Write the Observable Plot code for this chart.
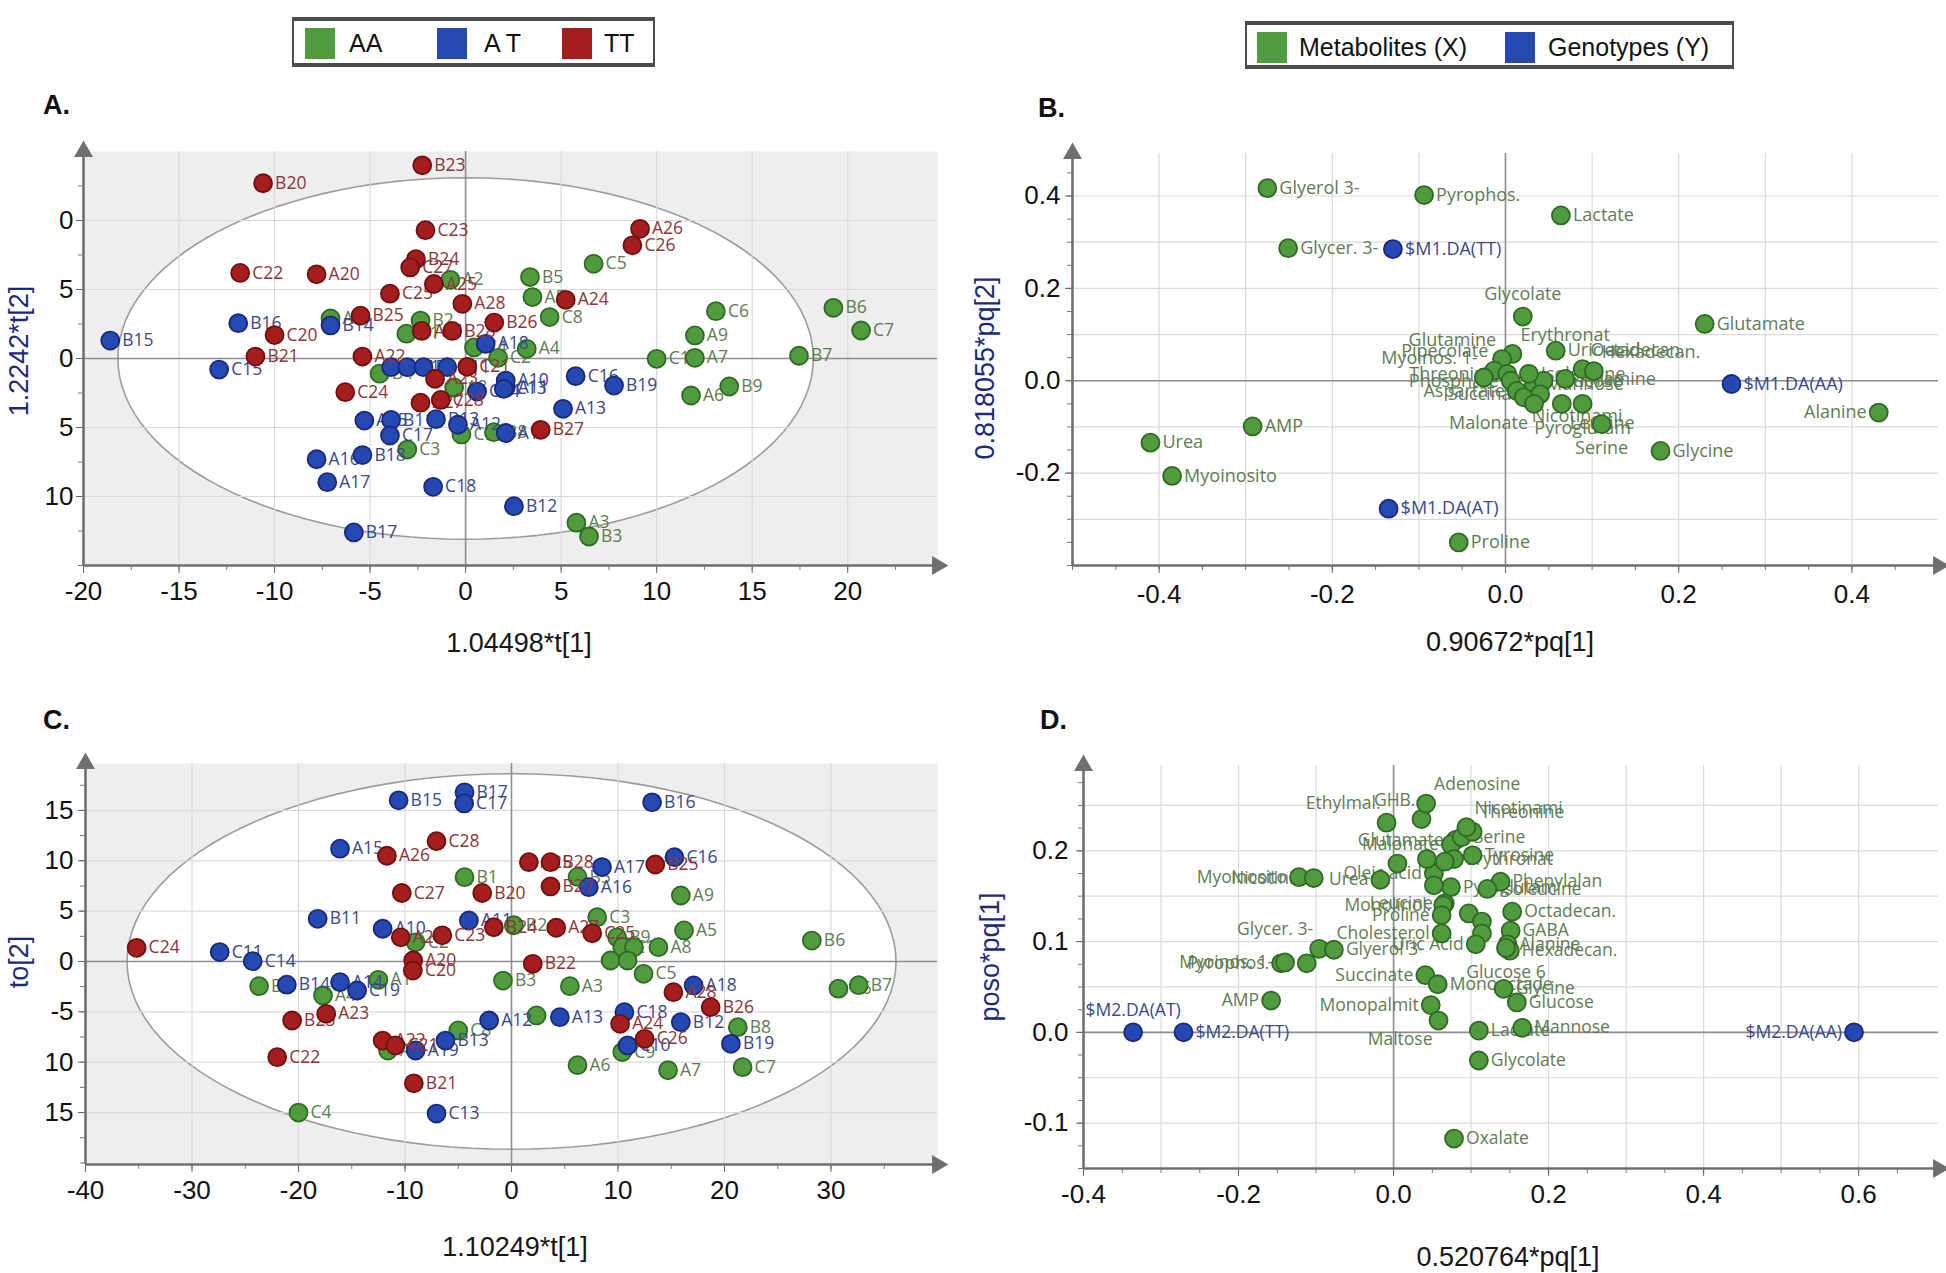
<!DOCTYPE html>
<html><head><meta charset="utf-8">
<script src="https://cdn.jsdelivr.net/npm/d3@7"></script>
<script src="https://cdn.jsdelivr.net/npm/@observablehq/plot@0.6"></script>
<style>
body{margin:0;background:#fff;}
#root{position:relative;width:1946px;height:1273px;overflow:hidden;font-family:"Liberation Sans",Arial,sans-serif;background:#fff;}
.title{position:absolute;transform:translate(-50%,-50%);white-space:nowrap;font-size:27px;color:#161616;}
.ytitle{position:absolute;transform:translate(-50%,-50%) rotate(-90deg);white-space:nowrap;font-size:27px;color:#1b2a78;}
.letter{position:absolute;font-weight:bold;font-size:27px;color:#111;transform:translateY(-50%);}
.legend{position:absolute;border:2px solid #4d4d4d;border-top-width:4px;border-bottom-width:4px;box-sizing:border-box;background:#fff;font-size:25px;color:#111;}
.sw{position:absolute;top:7px;width:30px;height:31px;}
.lt{position:absolute;top:5px;line-height:34px;}
</style></head><body><div id="root"></div>
<script>
// ---------------- Legends ----------------
const legendA = ["AA", "A T", "TT"];
const legendB = ["Metabolites (X)", "Genotypes (Y)"];

// ---------------- Panel A : scores ----------------
const aAA = [
 ["B5",3.37,5.9],["A5",3.5,4.45],["C5",6.7,6.86],["C8",4.4,3.0],["A4",3.2,0.7],["C2",1.7,0.05],
 ["C6",13.1,3.43],["A9",12.0,1.67],["C1",10.0,-0.02],["A7",12.0,0.05],["B7",17.45,0.2],
 ["B6",19.25,3.67],["C7",20.7,2.03],["A6",11.8,-2.68],["B9",13.8,-2.03],["A3",5.8,-11.9],["B3",6.46,-12.9],
 ["C3",-3.05,-6.6],["A2",-0.8,5.7],["A1",-7.07,2.9],["B1",-3.1,1.8],["B2",-2.36,2.75],["C4",0.44,0.8],
 ["B4",-4.5,-1.1],["A8",-0.6,-2.1],["C9",-0.22,-5.5],["B8",1.48,-5.34]
];
const aAT = [
 ["B15",-18.6,1.3],["B16",-11.9,2.56],["C15",-12.9,-0.8],["B14",-7.07,2.4],
 ["A14",-3.9,-0.63],["C10",-3.05,-0.63],["B10",-2.2,-0.63],["C11",-0.96,-0.63],["A18",1.05,1.06],
 ["C14",0.6,-2.4],["A11",2.1,-2.1],["A15",-5.3,-4.5],["B11",-3.9,-4.45],["B13",-1.55,-4.4],["A12",-0.4,-4.8],
 ["A19",2.1,-5.4],["C17",-3.96,-5.58],["B18",-5.4,-7.0],["A16",-7.8,-7.3],["A17",-7.24,-8.96],
 ["C18",-1.7,-9.3],["B17",-5.85,-12.6],["C16",5.76,-1.28],["B19",7.77,-1.96],["A13",5.1,-3.65],
 ["A10",2.1,-1.6],["C13",2.0,-2.2],["B12",2.53,-10.7]
];
const aTT = [
 ["B23",-2.27,14.0],["B20",-10.6,12.7],["C23",-2.1,9.3],["B24",-2.6,7.2],["C27",-2.9,6.6],
 ["C22",-11.8,6.2],["A20",-7.8,6.1],["A25",-1.66,5.4],["C25",-3.96,4.7],["A28",-0.17,3.96],
 ["B25",-5.5,3.1],["C20",-10.0,1.7],["B21",-11.0,0.14],["A22",-5.4,0.14],["A21",-2.3,2.0],
 ["B28",-0.7,2.0],["B26",1.5,2.6],["C21",0.09,-0.6],["A23",-1.6,-1.47],["C24",-6.3,-2.44],
 ["A27",-2.36,-3.2],["C28",-1.3,-3.0],["A26",9.13,9.4],["C26",8.73,8.2],["A24",5.24,4.25],["B27",3.93,-5.17]
];
const aXTicks = [-20,-15,-10,-5,0,5,10,15,20];
const aXText = ["-20","-15","-10","-5","0","5","10","15","20"];
const aYTicks = [10,5,0,-5,-10];
const aYText = ["0","5","0","5","10"];

// ---------------- Panel B : loadings ----------------
const bMetabolites = [
 ["Glyerol 3-",-0.275,0.417],["Pyrophos.",-0.094,0.402],["Glycer. 3-",-0.251,0.287],["Lactate",0.064,0.358],
 ["Glycolate",0.020,0.139,"t"],["Glutamate",0.230,0.123],["Alanine",0.431,-0.069,"l"],["Glycine",0.179,-0.152],
 ["AMP",-0.292,-0.099],["Urea",-0.41,-0.134],["Myoinosito",-0.385,-0.206],["Proline",-0.054,-0.350],
 ["Serine",0.111,-0.094,"b"],
 ["Erythronat",0.008,0.058,"tr"],["Glutamine",-0.004,0.047,"tl"],["Pipecolate",-0.013,0.022,"tl"],
 ["Myoinos. 1-",-0.025,0.007,"tl"],["Uric acid",0.058,0.065],["Octadecan.",0.089,0.025,"tr"],
 ["Hexadecan.",0.102,0.021,"tr"],["Threonine",0.002,0.015,"l"],["Tyramine",0.069,0.004],
 ["Phosphate",0.006,0.0,"l"],["Mannose",0.033,-0.007],["Glucose",0.044,0.0],["Isoleucine",0.027,0.015],
 ["Aspartate",0.013,-0.022,"l"],["Succinate",0.040,-0.029,"l"],["Nicotinami",0.021,-0.036,"br"],
 ["Malonate",0.033,-0.050,"bl"],["Leucine",0.065,-0.050,"br"],["Pyroglutam",0.089,-0.050,"b"]
];
const bGenotypes = [["$M1.DA(TT)",-0.130,0.285],["$M1.DA(AT)",-0.135,-0.277],["$M1.DA(AA)",0.261,-0.007]];
const bXTicks = [-0.4,-0.2,0,0.2,0.4];
const bXText = ["-0.4","-0.2","0.0","0.2","0.4"];
const bYTicks = [0.4,0.2,0,-0.2];
const bYText = ["0.4","0.2","0.0","-0.2"];

// ---------------- Panel C : orthogonal scores ----------------
const cAA = [
 ["B4",-23.7,-2.45],["A4",-17.7,-3.38],["A1",-12.5,-1.82],["B1",-4.41,8.37],["C2",-9.0,1.9],["B2",0.22,3.6],
 ["B3",-0.8,-1.9],["C8",-5.0,-6.85],["A2",-11.6,-8.85],["C3",8.05,4.4],["B5",6.2,8.4],["A9",15.9,6.55],
 ["A5",16.2,3.08],["B9",9.92,2.4],["C1",10.4,1.42],["",11.5,1.42],["A8",13.8,1.42],["",9.3,0.1],["",10.9,0.1],
 ["C5",12.4,-1.23],["C9",10.4,-9.0],["C4",-20.0,-15.0],["B6",28.2,2.08],["C6",30.7,-2.7],["B7",32.6,-2.35],
 ["A3",5.48,-2.45],["A6",6.2,-10.3],["A7",14.7,-10.8],["C7",21.7,-10.5],["B8",21.25,-6.52],["",2.35,-5.36]
];
const cAT = [
 ["C11",-27.4,0.93],["C14",-24.3,0.03],["B14",-21.1,-2.3],["A14",-16.1,-2.05],["C19",-14.5,-2.88],
 ["B11",-18.2,4.24],["A15",-16.1,11.2],["B15",-10.6,16.0],["B17",-4.41,16.8],["C17",-4.45,15.7],
 ["A10",-12.1,3.25],["A11",-4.0,4.07],["A19",-9.0,-8.84],["B13",-6.2,-7.85],["A12",-2.1,-5.86],
 ["C13",-7.04,-15.1],["B16",13.2,15.8],["A17",8.5,9.37],["A16",7.26,7.38],["C16",15.3,10.36],
 ["A18",17.1,-2.38],["A13",4.54,-5.53],["C18",10.6,-5.03],["B12",15.9,-6.03],["B19",20.6,-8.18],["C10",10.9,-8.34]
];
const cTT = [
 ["C24",-35.2,1.36],["A26",-11.7,10.5],["C28",-7.04,11.95],["C27",-10.3,6.8],["B20",-2.75,6.8],
 ["A21",-10.4,2.4],["C23",-6.5,2.6],["B24",-1.66,3.4],["A20",-9.23,0.1],["C20",-9.26,-0.9],
 ["B23",-20.6,-5.86],["A23",-17.4,-5.2],["C22",-22.0,-9.5],["A22",-12.1,-7.85],["C21",-10.9,-8.34],
 ["B21",-9.17,-12.1],["A25",1.63,9.86],["B28",3.66,9.86],["B27",3.66,7.45],["B25",13.5,9.63],
 ["A27",4.2,3.35],["C25",7.58,2.8],["B22",2.0,-0.23],["A28",15.2,-3.05],["B26",18.7,-4.54],
 ["A24",10.2,-6.19],["C26",12.5,-7.68]
];
const cXTicks = [-40,-30,-20,-10,0,10,20,30];
const cXText = ["-40","-30","-20","-10","0","10","20","30"];
const cYTicks = [15,10,5,0,-5,-10,-15];
const cYText = ["15","10","5","0","-5","10","15"];

// ---------------- Panel D : predictive loadings ----------------
const dMetabolites = [
 ["AMP",-0.158,0.035,"l"],["Pyrophos.",-0.145,0.076,"l"],["Myoinos. 1-",-0.140,0.077,"l"],["",-0.112,0.076],
 ["Glycer. 3-",-0.096,0.092,"tl"],["Glyerol 3-",-0.077,0.091,"r"],["Myoinosito",-0.122,0.171,"l"],
 ["Nicotinic",-0.103,0.170,"l"],["Urea",-0.017,0.168,"l"],["",0.005,0.186],["Oleic acid",0.052,0.175,"l"],
 ["Ethylmal.",-0.009,0.231,"tl"],["GHB.",0.036,0.235,"tl"],["Adenosine",0.042,0.252,"tr"],
 ["Glutamate",0.080,0.212,"l"],["Malonate",0.074,0.207,"l"],["Serine",0.088,0.215,"r"],
 ["Threonine",0.102,0.221,"tr"],["Nicotinami",0.094,0.226,"tr"],["Tyrosine",0.102,0.195,"r"],
 ["Erythronat",0.078,0.191,"r"],["",0.043,0.191],["",0.066,0.188],["Pyroglutam",0.074,0.160,"r"],
 ["",0.052,0.162],["Leucine",0.066,0.142,"l"],["Monolinol.",0.064,0.140,"l"],["Proline",0.062,0.129,"l"],
 ["Cholesterol",0.062,0.109,"l"],["Phenylalan",0.138,0.166,"r"],["Isoleucine",0.121,0.158,"r"],
 ["",0.097,0.131],["",0.114,0.122],["",0.114,0.109],["Uric Acid",0.106,0.097,"l"],
 ["Octadecan.",0.153,0.133,"r"],["GABA",0.151,0.112,"r"],["Alanine",0.147,0.097,"r"],
 ["Hexadecan.",0.150,0.090,"r"],["Glucose 6",0.145,0.093,"b"],
 ["Succinate",0.041,0.063,"l"],["Monooctade",0.057,0.053,"r"],["Monopalmit",0.048,0.030,"l"],
 ["Maltose",0.058,0.013,"bl"],["Glycine",0.142,0.048,"r"],["Glucose",0.159,0.033,"r"],
 ["Lactate",0.110,0.002,"r"],["Mannose",0.166,0.005,"r"],["Glycolate",0.110,-0.031,"r"],["Oxalate",0.078,-0.117,"r"]
];
const dGenotypes = [["$M2.DA(AT)",-0.336,0.0,"t"],["$M2.DA(TT)",-0.271,0.0,"r"],["$M2.DA(AA)",0.594,0.0,"l"]];
const dXTicks = [-0.4,-0.2,0,0.2,0.4,0.6];
const dXText = ["-0.4","-0.2","0.0","0.2","0.4","0.6"];
const dYTicks = [0.2,0.1,0,-0.1];
const dYText = ["0.2","0.1","0.0","-0.1"];

// Hotelling ellipses (semi-axes in score units)
const ellipseA = {rx:18.2, ry:13.1};
const ellipseC = {rx:36.1, ry:18.65};

// ---------------- styles ----------------
const GREEN = {fill:"#4f9b3d", stroke:"#2e6a24", text:"#5f7c54"};
const BLUE  = {fill:"#2648b2", stroke:"#18297a", text:"#3a4788"};
const RED   = {fill:"#a61d1d", stroke:"#6c1010", text:"#8d3535"};

const SIDES = {
 r:{dx:12,dy:0,textAnchor:"start"}, l:{dx:-12,dy:0,textAnchor:"end"},
 t:{dx:0,dy:-22,textAnchor:"middle"}, b:{dx:0,dy:24,textAnchor:"middle"},
 tl:{dx:-6,dy:-19,textAnchor:"end"}, tr:{dx:8,dy:-19,textAnchor:"start"},
 bl:{dx:-6,dy:19,textAnchor:"end"}, br:{dx:8,dy:19,textAnchor:"start"}
};

function ellipsePts(e){
  return d3.range(0, 361, 3).map(a => ({x: e.rx*Math.cos(a*Math.PI/180), y: e.ry*Math.sin(a*Math.PI/180)}));
}
const tenth = (a,b,s) => d3.range(a,b+1).map(i => +(i*s).toFixed(4));

function groupMarks(rows, col, fs){
  const marks = [];
  for (const [side,o] of Object.entries(SIDES)) {
    const sub = rows.filter(d => (d[3]||"r") === side && d[0]);
    if (sub.length) marks.push(Plot.text(sub, {x:d=>d[1], y:d=>d[2], text:d=>d[0], ...o,
      fill:col.text, fontSize:fs, fontFamily:"Open Sans, sans-serif"}));
  }
  marks.push(Plot.dot(rows, {x:d=>d[1], y:d=>d[2], r:9, fill:col.fill, stroke:col.stroke, strokeWidth:1.8}));
  return marks;
}

function makePanel(c){
  const marks = [];
  if (c.shade) marks.push(Plot.frame({fill:"#eeeeee", stroke:"none"}));
  if (c.ellipse) marks.push(Plot.line(ellipsePts(c.ellipse), {x:"x", y:"y", fill:"#ffffff", stroke:"#9c9c9c", strokeWidth:1.6}));
  marks.push(Plot.ruleX(c.gridX, {stroke:"#d9d9d9", strokeWidth:1.2}));
  marks.push(Plot.ruleY(c.gridY, {stroke:"#d9d9d9", strokeWidth:1.2}));
  marks.push(Plot.ruleX([0], {stroke:"#8e8e8e", strokeWidth:1.6}));
  marks.push(Plot.ruleY([0], {stroke:"#8e8e8e", strokeWidth:1.6}));
  marks.push(Plot.axisX(c.xMinor, {anchor:"bottom", tickSize:5, tickFormat:()=>"", stroke:"#777", label:null}));
  marks.push(Plot.axisY(c.yMinor, {anchor:"left", tickSize:5, tickFormat:()=>"", stroke:"#777", label:null}));
  marks.push(Plot.axisX(c.xTicks, {anchor:"bottom", tickSize:8, tickPadding:c.xPad,
    tickFormat:d=>c.xText[c.xTicks.indexOf(d)], stroke:"#666", fill:"#111", fontSize:26, label:null}));
  marks.push(Plot.axisY(c.yTicks, {anchor:"left", tickSize:7, tickPadding:c.yPad,
    tickFormat:d=>c.yText[c.yTicks.indexOf(d)], stroke:"#666", fill:"#111", fontSize:26, label:null}));
  marks.push(Plot.ruleX([c.xDom[0]], {stroke:"#6f6f6f", strokeWidth:2.6}));
  marks.push(Plot.ruleY([c.yDom[0]], {stroke:"#6f6f6f", strokeWidth:2.6}));
  marks.push(Plot.dot([[c.xDom[0], c.yDom[1]]], {x:d=>d[0], y:d=>d[1], symbol:"triangle", r:7, fill:"#6f6f6f", stroke:"none"}));
  marks.push(Plot.dot([[c.xDom[1], c.yDom[0]]], {x:d=>d[0], y:d=>d[1], symbol:"triangle", r:7, rotate:90, fill:"#6f6f6f", stroke:"none"}));
  for (const g of c.groups) marks.push(...groupMarks(g.rows, g.col, c.fs));
  const svg = Plot.plot({
    width:c.w, height:c.h, marginLeft:c.mL, marginRight:c.mR, marginTop:c.mT, marginBottom:c.mB,
    x:{domain:c.xDom}, y:{domain:c.yDom},
    style:{background:"transparent", overflow:"visible", fontFamily:"Liberation Sans, Arial, sans-serif"},
    marks
  });
  svg.style.position = "absolute"; svg.style.left = c.left+"px"; svg.style.top = c.top+"px";
  document.getElementById("root").appendChild(svg);
}

makePanel({left:0, top:120, w:960, h:540, mL:83, mR:23, mT:31, mB:95,
  xDom:[-20,24.7], yDom:[-15,15], shade:true, ellipse:ellipseA, fs:17.5,
  gridX:[-15,-10,-5,5,10,15,20], gridY:[-10,-5,5,10],
  xMinor:d3.range(-20,25,2.5), yMinor:d3.range(-15,15.1,2.5),
  xTicks:aXTicks, xText:aXText, yTicks:aYTicks, yText:aYText, xPad:8, yPad:3,
  groups:[{rows:aAA,col:GREEN},{rows:aAT,col:BLUE},{rows:aTT,col:RED}]});

makePanel({left:960, top:120, w:986, h:540, mL:112, mR:8, mT:33, mB:95,
  xDom:[-0.5,0.5], yDom:[-0.4,0.492], shade:false, fs:18,
  gridX:tenth(-4,4,0.1), gridY:tenth(-3,4,0.1),
  xMinor:tenth(-10,10,0.05), yMinor:tenth(-8,9,0.05),
  xTicks:bXTicks, xText:bXText, yTicks:bYTicks, yText:bYText, xPad:11, yPad:5,
  groups:[{rows:bMetabolites,col:GREEN},{rows:bGenotypes,col:BLUE}]});

makePanel({left:0, top:730, w:960, h:543, mL:85, mR:23, mT:33, mB:109,
  xDom:[-40,40], yDom:[-20.16,19.66], shade:true, ellipse:ellipseC, fs:17.5,
  gridX:[-30,-20,-10,10,20,30], gridY:[-15,-10,-5,5,10,15],
  xMinor:d3.range(-40,40.1,5), yMinor:d3.range(-20,19.7,2.5),
  xTicks:cXTicks, xText:cXText, yTicks:cYTicks, yText:cYText, xPad:8, yPad:5,
  groups:[{rows:cAA,col:GREEN},{rows:cAT,col:BLUE},{rows:cTT,col:RED}]});

makePanel({left:960, top:730, w:986, h:543, mL:123, mR:8, mT:35, mB:105,
  xDom:[-0.4,0.703], yDom:[-0.15,0.294], shade:false, fs:17.5,
  gridX:tenth(-3,6,0.1), gridY:tenth(-2,5,0.05),
  xMinor:tenth(-8,14,0.05), yMinor:tenth(-6,11,0.025),
  xTicks:dXTicks, xText:dXText, yTicks:dYTicks, yText:dYText, xPad:8, yPad:8,
  groups:[{rows:dMetabolites,col:GREEN},{rows:dGenotypes,col:BLUE}]});

// ---------------- HTML text: titles, letters, legends ----------------
const root = document.getElementById("root");
function addDiv(cls, text, x, y){ const d=document.createElement("div"); d.className=cls; d.textContent=text; d.style.left=x+"px"; d.style.top=y+"px"; root.appendChild(d); return d; }
addDiv("title","1.04498*t[1]",519,643);
addDiv("ytitle","1.2242*t[2]",19,351);
addDiv("title","0.90672*pq[1]",1510,642);
addDiv("ytitle","0.818055*pq[2]",985,368);
addDiv("title","1.10249*t[1]",515,1247);
addDiv("ytitle","to[2]",19,962);
addDiv("title","0.520764*pq[1]",1508,1257);
addDiv("ytitle","poso*pq[1]",990,957);
addDiv("letter","A.",43,105);
addDiv("letter","B.",1038,108);
addDiv("letter","C.",43,720);
addDiv("letter","D.",1040,720);

function legend(x,y,w,h,items){
  const box=document.createElement("div"); box.className="legend";
  Object.assign(box.style,{left:x+"px",top:y+"px",width:w+"px",height:h+"px"});
  for(const it of items){
    const s=document.createElement("div"); s.className="sw"; s.style.left=it.sx+"px"; s.style.background=it.c; box.appendChild(s);
    const t=document.createElement("div"); t.className="lt"; t.style.left=it.tx+"px"; t.textContent=it.t; box.appendChild(t);
  }
  root.appendChild(box);
}
legend(292,17,363,50,[
  {c:GREEN.fill,t:legendA[0],sx:11,tx:55},
  {c:BLUE.fill,t:legendA[1],sx:143,tx:190},
  {c:RED.fill,t:legendA[2],sx:268,tx:310}]);
legend(1245,21,489,48,[
  {c:GREEN.fill,t:legendB[0],sx:10,tx:52},
  {c:BLUE.fill,t:legendB[1],sx:258,tx:301}]);
</script></body></html>
